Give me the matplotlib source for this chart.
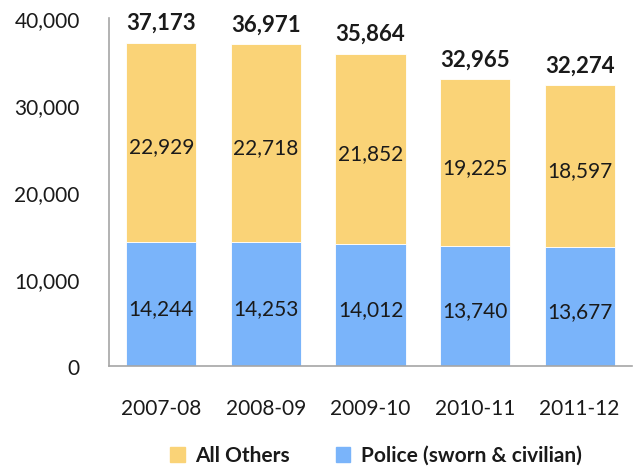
import matplotlib
matplotlib.use("Agg")
import matplotlib.pyplot as plt
from matplotlib.patches import Patch
from matplotlib.transforms import ScaledTranslation

categories = ["2007-08", "2008-09", "2009-10", "2010-11", "2011-12"]
police = [14244, 14253, 14012, 13740, 13677]
others = [22929, 22718, 21852, 19225, 18597]
totals = [37173, 36971, 35864, 32965, 32274]
yticks = [0, 10000, 20000, 30000, 40000]

plt.rcParams['font.family'] = ['Lato', 'DejaVu Sans']
txt = '#1a1a1a'
blue = '#7AB4FA'
yellow = '#FAD377'

fig = plt.figure(figsize=(6.39, 4.66), dpi=100)
ax = fig.add_axes([0.1706, 0.2146, 0.8184, 0.7468])
x = list(range(len(categories)))
ax.bar(x, police, width=0.67, color=blue, edgecolor='white', linewidth=0.6)
ax.bar(x, others, bottom=police, width=0.67, color=yellow, edgecolor='white', linewidth=0.6)

for i in x:
    ax.text(i, police[i] / 2 - 600, f"{police[i]:,}", ha='center', va='center', fontsize=15, color=txt)
    ax.text(i, police[i] + others[i] / 2 - 600, f"{others[i]:,}", ha='center', va='center', fontsize=15, color=txt)
    ax.annotate(f"{totals[i]:,}", (i, totals[i]), xytext=(0, 14), textcoords='offset points',
                ha='center', va='center', fontsize=16, fontweight='bold', color=txt)

ax.set_xlim(-0.5, 4.5)
ax.set_ylim(0, 40000)
ax.set_yticks(yticks)
ax.set_yticklabels([f"{v:,}" for v in yticks])
ax.set_xticks(x)
ax.set_xticklabels(categories)
ax.tick_params(axis='both', length=0, labelsize=15, colors=txt)
ax.tick_params(axis='y', pad=21)
ax.tick_params(axis='x', pad=24)
for lbl in ax.get_yticklabels():
    lbl.set_transform(lbl.get_transform() + ScaledTranslation(0, -1/72, fig.dpi_scale_trans))
for s in ['top', 'right']:
    ax.spines[s].set_visible(False)
for s in ['left', 'bottom']:
    ax.spines[s].set_color('#A6A6A6')
    ax.spines[s].set_linewidth(1.2)

handles = [Patch(color=yellow, label='All Others'), Patch(color=blue, label='Police (sworn & civilian)')]
leg = fig.legend(handles=handles, loc='center', bbox_to_anchor=(0.588, 0.022), ncol=2, frameon=False,
                 prop={'size': 15, 'weight': 'bold'}, handlelength=0.7, handleheight=0.7,
                 columnspacing=2.2, handletextpad=0.5)
for t in leg.get_texts():
    t.set_color(txt)

fig.savefig('out.png', dpi=100)
